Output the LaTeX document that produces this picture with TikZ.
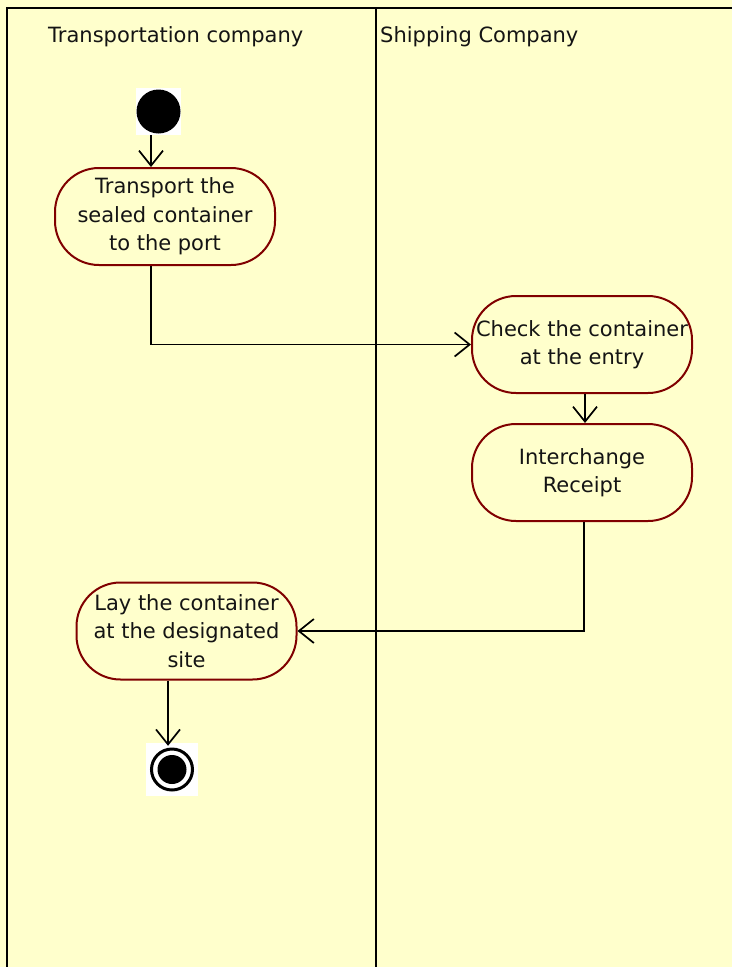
\documentclass[tikz,border=0pt]{standalone}
\usepackage{fontspec}
\setmainfont{DejaVu Sans}
\usetikzlibrary{arrows.meta}
\definecolor{bgyellow}{HTML}{FFFFCC}
\definecolor{actred}{HTML}{800000}
\begin{document}
\begin{tikzpicture}[x=1pt,y=-1pt,
  txt/.style={font=\fontsize{21}{28.5}\selectfont, text=black!92},
  act/.style={draw=actred, line width=2pt, rounded corners=44pt, fill=bgyellow,
    minimum width=220pt, minimum height=97pt, align=center, inner sep=0pt, txt},
  flow/.style={line width=1.7pt, -{Straight Barb[length=15pt,width=24pt,line width=1.7pt]}},
  lane/.style={line width=2pt, black},
  initnode/.style={fill=white, minimum width=45pt, minimum height=47pt, inner sep=0pt},
  finalnode/.style={fill=white, minimum width=52pt, minimum height=53pt, inner sep=0pt}]
\useasboundingbox (0,0) rectangle (732,967);
\fill[bgyellow] (0,0) rectangle (732,967);
% swimlanes
\draw[lane] (6,8) -- (732,8);
\draw[lane] (6.5,8) -- (6.5,967);
\draw[line width=2.5pt] (376,8) -- (376,967);
\node[txt, anchor=west, inner sep=0pt] (lane1) at (48,37) {Transportation company};
\node[txt, anchor=west, inner sep=0pt] (lane2) at (380,37) {Shipping Company};
% start
\node[initnode] (st) at (158.5,111.5) {};
\fill (st.center) circle (22pt);
% activities
\node[act] (a1) at (165,216.5) {Transport the\\sealed container\\to the port};
\node[act] (chk) at (582,344.5) {Check the container\\at the entry};
\node[act] (ir) at (582,472.5) {Interchange\\Receipt};
\node[act] (lay) at (186.5,631) {Lay the container\\at the designated\\site};
% end
\node[finalnode] (en) at (172,769.5) {};
\draw[line width=3pt] (en.center) circle (20.5pt);
\fill (en.center) circle (14.5pt);
% flows
\draw[flow] ([xshift=-7.5pt]st.south) -- ([xshift=-14pt]a1.north);
\draw[flow] ([xshift=-14pt]a1.south) |- (chk.west);
\draw[flow] ([xshift=3pt]chk.south) -- ([xshift=3pt]ir.north);
\draw[flow] ([xshift=2pt]ir.south) |- (lay.east);
\draw[flow] ([xshift=-18.5pt]lay.south) -- ([xshift=-4pt,yshift=-3pt]en.north);
\end{tikzpicture}
\end{document}
